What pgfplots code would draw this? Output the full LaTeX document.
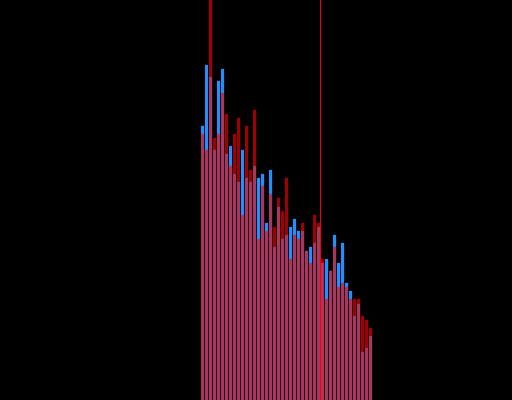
\documentclass[border=0pt]{standalone}
\usepackage{xcolor}
\usepackage{pgfplots}
\pgfplotsset{compat=1.18}
\definecolor{blueC}{RGB}{30,144,255}
\definecolor{redC}{RGB}{255,0,0}
\pagecolor{black}
\begin{document}
\begin{tikzpicture}
\begin{axis}[
  width=512bp, height=400bp, scale only axis,
  xmin=0, xmax=512, ymin=0, ymax=400,
  hide axis, clip=true,
  axis background/.style={fill=black},
  ybar, bar width=3, bar shift=0pt,
]
% blue series (opaque)
\addplot[fill=blueC, draw=none] coordinates {
(202.5,274) (206.5,335) (210.5,323) (214.5,250) (218.5,319) (222.5,331)
(226.5,246) (230.5,254) (234.5,226) (238.5,218) (242.5,250) (246.5,222)
(250.5,218) (254.5,234) (258.5,222) (262.5,226) (266.5,177) (270.5,230)
(274.5,153) (278.5,193) (282.5,161) (286.5,165) (290.5,173) (294.5,181)
(298.5,169) (302.5,169) (306.5,149) (310.5,153) (314.5,157) (318.5,173)
(322.5,137) (326.5,141) (330.5,129) (334.5,165) (338.5,137) (342.5,157)
(346.5,117) (350.5,109) (354.5,84) (358.5,96) (362.5,48) (366.5,52)
(370.5,64)
};
% red series (semi-transparent)
\addplot[fill=redC, fill opacity=0.63, draw=none] coordinates {
(202.5,266) (206.5,250) (210.5,420) (214.5,262) (218.5,266) (222.5,307)
(226.5,286) (230.5,234) (234.5,266) (238.5,282) (242.5,185) (246.5,274)
(250.5,230) (254.5,290) (258.5,161) (262.5,214) (266.5,169) (270.5,206)
(274.5,173) (278.5,202) (282.5,189) (286.5,222) (290.5,141) (294.5,165)
(298.5,161) (302.5,177) (306.5,149) (310.5,137) (314.5,185) (318.5,177)
(322.5,141) (326.5,101) (330.5,129) (334.5,153) (338.5,113) (342.5,117)
(346.5,113) (350.5,101) (354.5,101) (358.5,101) (362.5,84) (366.5,80)
(370.5,72)
};
% vertical marker line
\addplot[sharp plot, draw=redC, line width=1bp, fill=none] coordinates {(320.5,-10) (320.5,500)};
\end{axis}
\end{tikzpicture}
\end{document}
